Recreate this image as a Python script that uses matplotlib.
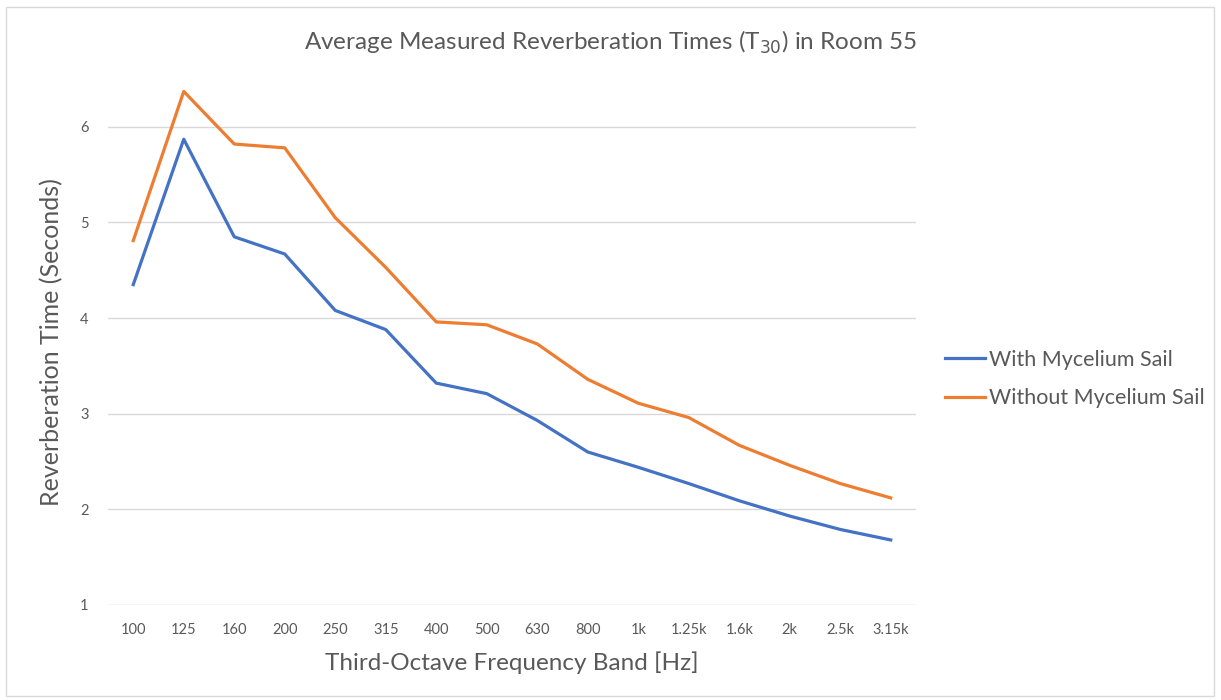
import matplotlib
matplotlib.use("Agg")
import matplotlib.pyplot as plt
from matplotlib.patches import Rectangle

plt.rcParams['font.family'] = ['Lato', 'DejaVu Sans']

bands = ["100", "125", "160", "200", "250", "315", "400", "500", "630", "800",
         "1k", "1.25k", "1.6k", "2k", "2.5k", "3.15k"]
with_sail = [4.35, 5.87, 4.85, 4.67, 4.08, 3.88, 3.32, 3.21, 2.93, 2.60,
             2.44, 2.27, 2.09, 1.93, 1.79, 1.68]
without_sail = [4.81, 6.37, 5.82, 5.78, 5.05, 4.53, 3.96, 3.93, 3.73, 3.36,
                3.11, 2.96, 2.67, 2.46, 2.27, 2.12]
y_ticks = [1, 2, 3, 4, 5, 6]

W, H = 1221, 700
fig = plt.figure(figsize=(W / 100, H / 100), dpi=100)
ax = fig.add_axes([108 / W, (H - 605) / H, (916 - 108) / W, (605 - 79) / H])

x = list(range(len(bands)))
ax.plot(x, with_sail, color="#4472C4", lw=2.3, label="With Mycelium Sail", solid_joinstyle="round")
ax.plot(x, without_sail, color="#ED7D31", lw=2.3, label="Without Mycelium Sail", solid_joinstyle="round")

ax.set_xlim(-0.5, len(bands) - 0.5)
ax.set_ylim(1, 6.5)
ax.set_xticks(x)
ax.set_xticklabels(bands)
ax.set_yticks(y_ticks)
ax.tick_params(axis="both", length=0, labelsize=10.5, colors="#595959")
ax.tick_params(axis="x", pad=13)
ax.tick_params(axis="y", pad=14)
ax.grid(axis="y", color="#D9D9D9", lw=1)
ax.set_axisbelow(True)
for s in ax.spines.values():
    s.set_visible(False)

ax.set_xlabel("Third-Octave Frequency Band [Hz]", fontsize=17.5, color="#595959", labelpad=10)
ax.set_ylabel("Reverberation Time (Seconds)", fontsize=18, color="#595959", labelpad=12)

fig.text(0.5, (H - 42) / H, "Average Measured Reverberation Times (T$_{30}$) in Room 55",
         ha="center", va="center", fontsize=17.5, color="#595959")

fig.legend(loc="center left", bbox_to_anchor=(945 / W, (H - 379) / H), frameon=False,
           fontsize=15.5, labelcolor="#595959", handlelength=1.85, handletextpad=0.2,
           labelspacing=0.85, borderpad=0, borderaxespad=0)

fig.add_artist(Rectangle((6 / W, 4 / H), (W - 13) / W, (H - 11) / H, transform=fig.transFigure,
                         fill=False, edgecolor="#D9D9D9", lw=1))

fig.savefig("out.png", dpi=100, facecolor="white")
